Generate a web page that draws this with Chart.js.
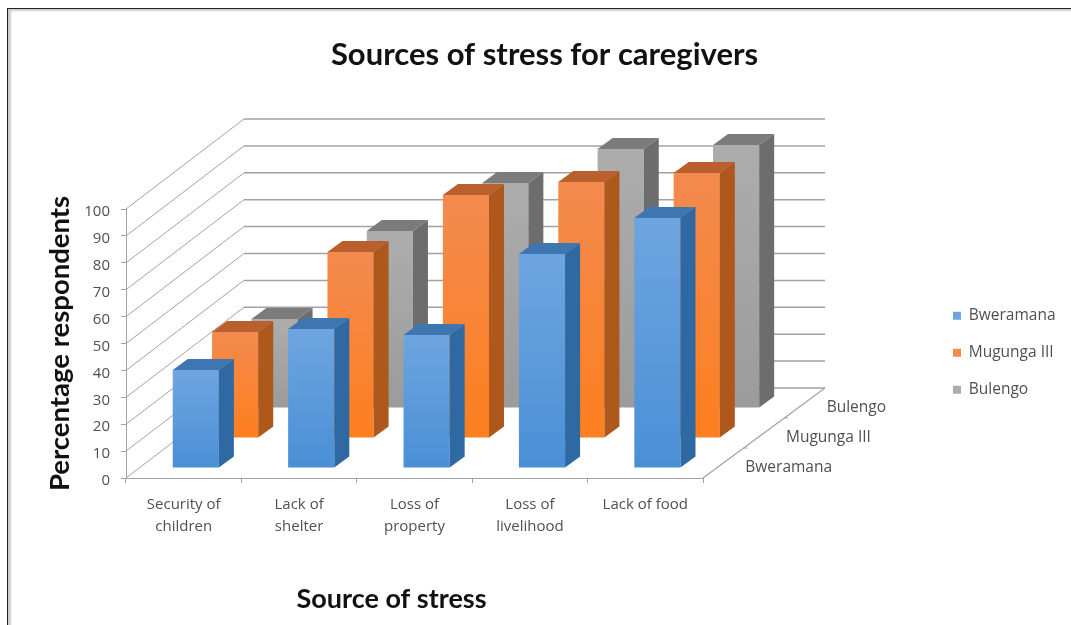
<!DOCTYPE html>
<html><head><meta charset="utf-8">
<style>
html,body{margin:0;padding:0;background:#fff;overflow:hidden}
#frame{position:absolute;left:7px;top:8px;width:1064px;height:617px;border-left:1.5px solid #222;border-top:1.5px solid #222;box-shadow:inset 4px 3px 2px -1px #ccc;box-sizing:border-box}
canvas{position:absolute;left:0;top:0;display:block;filter:blur(0.45px)}
</style>
<script src="https://cdn.jsdelivr.net/npm/chart.js@4/dist/chart.umd.min.js"></script>
</head><body>
<div id="frame"></div>
<canvas id="c" width="1071" height="625"></canvas>
<script>
const categories = [["Security of","children"],["Lack of","shelter"],["Loss of","property"],["Loss of","livelihood"],"Lack of food"];
const seriesNames = ["Bweramana","Mugunga III","Bulengo"];
const bweramana = [36.4,51.7,49.4,79.6,92.9];
const mugunga = [39.4,69.1,90.3,95.2,98.5];
const bulengo = [33.1,65.8,83.6,96.3,97.8];
const yTicks = {min:0,max:100,step:10};

const FONT = "Lato, Carlito, Calibri, sans-serif";
const SMALL = "'Open Sans', sans-serif";
const TXT = "#505050";
const GRID = "#a2a2a2";
// 3D projection of the depth axis, in pixels
const DEPTH = {left:118,right:122,y:90,slots:3,barX:15,barY:11};
const palette = [
 {legend:"#4f93ce",top:"#6ea5e0",bot:"#4a8fd6",side:"#2f69a3",cap:"#3e76b2"},
 {legend:"#e07b3e",top:"#f38a4e",bot:"#fd7f1f",side:"#ae581c",cap:"#b9602e"},
 {legend:"#a5a5a5",top:"#adadad",bot:"#9b9b9b",side:"#6d6d6d",cap:"#7b7b7b"}
];
const off = i => ({x:(i+1/3)*DEPTH.left/DEPTH.slots-1, y:(i+1/3)*DEPTH.y/DEPTH.slots});
const values=[bweramana,mugunga,bulengo];

function fill(ctx,pts,color){
  ctx.beginPath();
  pts.forEach((p,i)=> i?ctx.lineTo(p[0],p[1]):ctx.moveTo(p[0],p[1]));
  ctx.closePath();ctx.fillStyle=color;ctx.fill();
}
function line(ctx,a,b,color,w){
  ctx.beginPath();ctx.moveTo(a[0],a[1]);ctx.lineTo(b[0],b[1]);
  ctx.strokeStyle=color;ctx.lineWidth=w;ctx.stroke();
}

const bars3d = {
  id:"bars3d",
  beforeLayout(chart){
    const lg = chart.legend;
    if(lg && !lg._wrapped){
      const f = lg.fit;
      lg.fit = function(){ f.call(this); this.width = 368; };
      lg._wrapped = true;
    }
  },
  afterLayout(chart){
    const lg = chart.legend;
    const p = lg.options.labels.padding;
    lg.left = 953 - p; lg.right = 1071;
    lg.top = 308 - p; lg.bottom = 420;
    chart.titleBlock.left -= 13; chart.titleBlock.right -= 13;
    const sx = chart.scales.x;
    if(!sx._wrapped){
      const d = sx.drawTitle;
      sx.drawTitle = function(){ const c=this.ctx; c.save(); c.translate(-23,0); d.call(this); c.restore(); };
      sx._wrapped = true;
    }
  },
  beforeDatasetsDraw(chart){
    const {ctx,scales:{x,y}} = chart;
    ctx.save();
    for(const t of y.ticks){
      const py = y.getPixelForValue(t.value);
      const bx = x.left+DEPTH.left, by = py-DEPTH.y;
      line(ctx,[x.left,py],[bx,by],GRID,1);
      line(ctx,[bx,by],[x.right+DEPTH.right,by],GRID,1.5);
    }
    const y0 = y.getPixelForValue(0);
    line(ctx,[x.right,y0],[x.right+DEPTH.right,y0-DEPTH.y],GRID,1.2);
    seriesNames.forEach((n,i)=>{
      const f=(i+1)/DEPTH.slots, px=x.right+DEPTH.right*f, py=y0-DEPTH.y*f;
      if(i<DEPTH.slots-1) line(ctx,[px,py],[px+4,py],GRID,1);
      const g=(i+.5)/DEPTH.slots;
      ctx.font="15.5px "+SMALL;ctx.fillStyle=TXT;ctx.textAlign="left";ctx.textBaseline="middle";
      ctx.fillText(n,x.right+DEPTH.right*g+22,y0-DEPTH.y*g+4.5);
    });
    ctx.restore();
  },
  beforeDatasetDraw(chart,args){
    const o=off(args.index);
    chart.ctx.save();
    chart.ctx.translate(o.x,-o.y);
  },
  afterDatasetDraw(chart,args){
    const ctx=chart.ctx, c=palette[args.index], bx=DEPTH.barX, by=DEPTH.barY;
    for(const b of args.meta.data){
      const l=b.x-b.width/2, r=b.x+b.width/2;
      fill(ctx,[[r,b.y],[r+bx,b.y-by],[r+bx,b.base-by],[r,b.base]],c.side);
      fill(ctx,[[l,b.y],[l+bx,b.y-by],[r+bx,b.y-by],[r,b.y]],c.cap);
    }
    ctx.restore();
  }
};

function frontFace(i){
  return function(ctx){
    const c=palette[i];
    if(ctx.type!=="data") return c.legend;
    const sc=ctx.chart.scales.y;
    const y1=sc?sc.getPixelForValue(values[i][ctx.dataIndex]):NaN, y2=sc?sc.getPixelForValue(0):NaN;
    if(!isFinite(y1)||!isFinite(y2)) return c.top;
    const g=ctx.chart.ctx.createLinearGradient(0,y1,0,y2);
    g.addColorStop(0,c.top);g.addColorStop(1,c.bot);
    return g;
  };
}

new Chart(document.getElementById("c"),{
  type:"bar",
  data:{labels:categories,datasets:seriesNames.map((n,i)=>({
    label:n,data:values[i],backgroundColor:frontFace(i),borderWidth:0,
    grouped:false,barPercentage:0.4,categoryPercentage:1,clip:false
  }))},
  plugins:[bars3d],
  options:{
    responsive:false,animation:false,
    layout:{padding:{left:44,right:0,top:0,bottom:10}},
    plugins:{
      tooltip:{enabled:false},
      title:{display:true,text:"Sources of stress for caregivers",color:"#111",
        font:{family:FONT,size:31,weight:"bold",lineHeight:1.2},
        padding:{top:36.4,bottom:135.4}},
      legend:{position:"right",align:"start",
        labels:{boxWidth:8,boxHeight:8,padding:21.5,color:TXT,font:{family:SMALL,size:15.5}}}
    },
    scales:{
      x:{
        grid:{drawOnChartArea:false,drawTicks:true,tickLength:5,color:GRID},
        border:{color:GRID},
        ticks:{color:TXT,font:{family:SMALL,size:15,lineHeight:1.5},maxRotation:0,autoSkip:false,padding:10},
        title:{display:true,text:"Source of stress",color:"#111",font:{family:FONT,size:27,weight:"bold"},padding:{top:0,bottom:0}},
        afterFit(s){s.height=625-478-10;}
      },
      y:{
        min:yTicks.min,max:yTicks.max,
        grid:{drawOnChartArea:false,drawTicks:true,tickLength:5,color:GRID},
        border:{color:GRID},
        ticks:{stepSize:yTicks.step,color:TXT,font:{family:SMALL,size:15},padding:11,labelOffset:3},
        title:{display:true,text:"Percentage respondents",color:"#111",font:{family:FONT,size:27.5,weight:"bold"},padding:{top:0,bottom:0}},
        afterFit(s){s.width=126-44;}
      }
    }
  }
});
</script>
</body></html>
